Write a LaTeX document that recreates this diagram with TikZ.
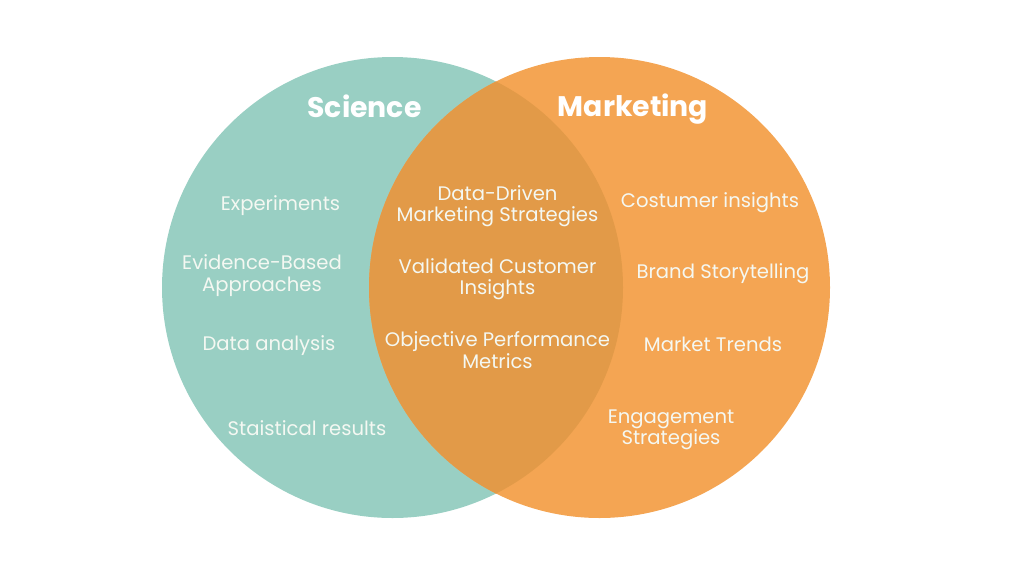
\documentclass[tikz,border=0pt]{standalone}
\usepackage{fontspec}
\setmainfont{Poppins}
\definecolor{tealc}{HTML}{99CFC3}
\definecolor{orangec}{HTML}{F4A553}
\definecolor{overlapc}{HTML}{E29A48}
\definecolor{textc}{HTML}{F4F8F2}
\begin{document}
\begin{tikzpicture}[
		x=1pt, y=-1pt,
		circ/.style={circle, minimum size=461pt, inner sep=0pt, outer sep=0pt},
		head/.style={text=white, font=\fontsize{28.3}{31}\selectfont\bfseries},
		item/.style={text=textc, align=center, inner sep=0pt, font=\fontsize{19.6}{21.5}\selectfont}
		]
		\useasboundingbox (0,0) rectangle (1024,576);
		
		% Circles
		\node[circ, fill=tealc] (science) at (392.5,287.5) {};
		\node[circ, fill=orangec] (marketing) at (599.5,287.5) {};
		
		% Overlap
		\begin{scope}
			\clip (392.5,287.5) circle (230.5);
			\fill[overlapc] (599.5,287.5) circle (230.5);
		\end{scope}
		
		% Headings
		\node[head] (sciencet) at (364.5,106) {Science};
		\node[head] (marketingt) at (633,109.5) {Marketing};
		
		% Science items
		\node[item] (s1) at (280.5,206) {Experiments};
		\node[item] (s2) at (262,275.5) {Evidence-Based\\Approaches};
		\node[item] (s3) at (269,346) {Data analysis};
		\node[item] (s4) at (307,428) {Staistical results};
		
		% Overlap items
		\node[item] (o1) at (497.5,206) {Data-Driven\\Marketing Strategies};
		\node[item] (o2) at (497.5,279) {Validated Customer\\Insights};
		\node[item] (o3) at (497.5,350) {Objective Performance\\Metrics};
		
		% Marketing items
		\node[item] (m1) at (710,203) {Costumer insights};
		\node[item] (m2) at (723,274) {Brand Storytelling};
		\node[item] (m3) at (713,344) {Market Trends};
		\node[item] (m4) at (671,430) {Engagement\\Strategies};
		
	\end{tikzpicture}
\end{document}
